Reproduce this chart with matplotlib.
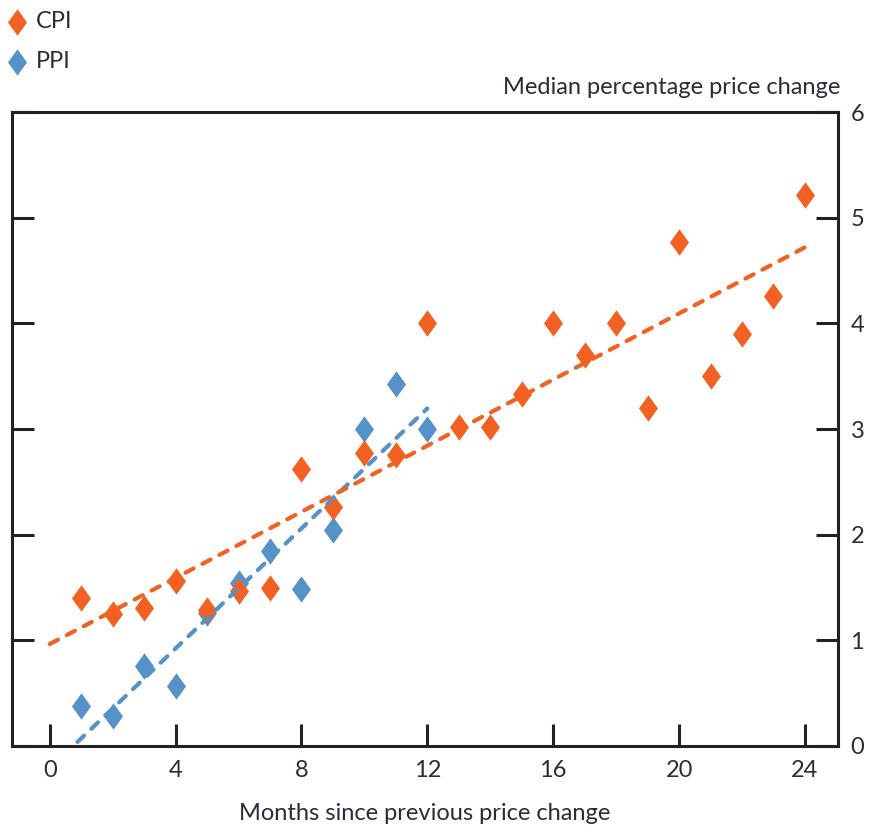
import numpy as np
import matplotlib.pyplot as plt
from matplotlib.path import Path

# Months since previous price change
cpi_months = list(range(1, 25))
cpi_values = [1.40, 1.25, 1.31, 1.56, 1.29, 1.47, 1.50, 2.62, 2.26, 2.77, 2.75, 4.00,
              3.02, 3.02, 3.33, 4.00, 3.70, 4.00, 3.20, 4.77, 3.50, 3.90, 4.26, 5.21]
ppi_months = list(range(1, 13))
ppi_values = [0.38, 0.28, 0.76, 0.57, 1.26, 1.54, 1.85, 1.49, 2.04, 3.00, 3.43, 3.00]

x_ticks = [0, 4, 8, 12, 16, 20, 24]
y_ticks = [0, 1, 2, 3, 4, 5, 6]

orange = '#F26122'
blue = '#5592C8'
text_col = '#2b2b3a'
fs = 17

plt.rcParams['font.family'] = ['Lato', 'DejaVu Sans']

# tall diamond marker
diamond = Path([(0, 1), (0.72, 0), (0, -1), (-0.72, 0), (0, 1)],
               [Path.MOVETO, Path.LINETO, Path.LINETO, Path.LINETO, Path.CLOSEPOLY])

fig = plt.figure(figsize=(8.71, 8.32), dpi=100)
ax = fig.add_axes([12/871, 1-746/832, (838-12)/871, (746-112)/832])

ax.plot(ppi_months, ppi_values, linestyle='none', marker=diamond, markersize=19,
        color=blue, markeredgewidth=0, zorder=2)
ax.plot(cpi_months, cpi_values, linestyle='none', marker=diamond, markersize=19,
        color=orange, markeredgewidth=0, zorder=3)

# trend lines (least squares)
pb = np.polyfit(ppi_months, ppi_values, 1)
xs = np.array([0, 12])
ax.plot(xs, np.polyval(pb, xs), color=blue, lw=3, dashes=(2.2, 2.4),
        dash_capstyle='round', zorder=4)
pc = np.polyfit(cpi_months, cpi_values, 1)
xs = np.array([0, 24])
ax.plot(xs, np.polyval(pc, xs), color=orange, lw=3, dashes=(2.2, 2.4),
        dash_capstyle='round', zorder=5)

ax.set_xlim(-1.2, 25.05)
ax.set_ylim(0, 6)
ax.set_xticks(x_ticks)
ax.set_yticks(y_ticks)

for s in ax.spines.values():
    s.set_linewidth(2.2)
    s.set_color('#222222')

ax.tick_params(axis='x', direction='in', length=16, width=2.2, color='#222222',
               pad=10, labelcolor=text_col, labelsize=fs)
ax.tick_params(axis='y', direction='in', length=16, width=2.2, color='#222222',
               left=True, right=True, labelleft=False, labelright=True,
               pad=9, labelcolor=text_col, labelsize=fs)

ax.set_xlabel('Months since previous price change', color=text_col, fontsize=fs,
              labelpad=16)
fig.text(840/871, 1-88/832, 'Median percentage price change', ha='right',
         va='center', color=text_col, fontsize=fs)

# legend
leg_ax = fig.add_axes([0, 0.9, 0.3, 0.1])
leg_ax.set_xlim(0, 261)
leg_ax.set_ylim(83.2, 0)
leg_ax.axis('off')
leg_ax.plot([17], [22], marker=diamond, markersize=19, color=orange, markeredgewidth=0)
leg_ax.plot([17], [62], marker=diamond, markersize=19, color=blue, markeredgewidth=0)
leg_ax.text(36, 22, 'CPI', va='center', ha='left', color=text_col, fontsize=fs)
leg_ax.text(36, 62, 'PPI', va='center', ha='left', color=text_col, fontsize=fs)

fig.savefig('out.png', dpi=100)
